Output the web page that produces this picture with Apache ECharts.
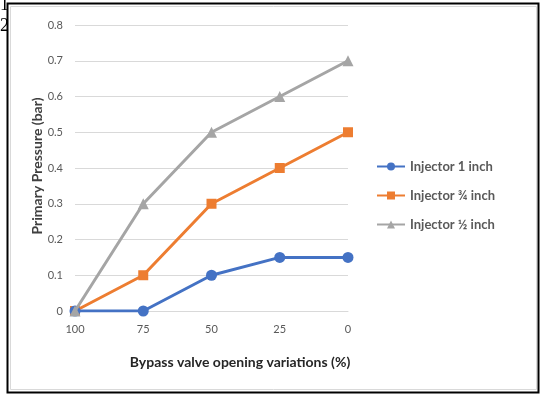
<!DOCTYPE html>
<html>
<head>
<meta charset="utf-8">
<script src="https://cdn.jsdelivr.net/npm/echarts@6/dist/echarts.min.js"></script>
<style>
html,body{margin:0;padding:0;background:#fff;}
#c{width:541px;height:395px;}
</style>
</head>
<body>
<div id="c"></div>
<script>
const categories = ['100', '75', '50', '25', '0'];
const injector1 = [0, 0, 0.1, 0.15, 0.15];
const injector34 = [0, 0.1, 0.3, 0.4, 0.5];
const injector12 = [0, 0.3, 0.5, 0.6, 0.7];
const seriesNames = ['Injector 1 inch', 'Injector ¾ inch', 'Injector ½ inch'];
const yTicks = { min: 0, max: 0.8, interval: 0.1 };
const yName = 'Primary Pressure (bar)';
const xName = 'Bypass valve opening variations (%)';

const chart = echarts.init(document.getElementById('c'), null, { renderer: 'canvas' });
const font = 'Lato, "Open Sans", sans-serif';
chart.setOption({
  animation: false,
  backgroundColor: '#fff',
  textStyle: { fontFamily: font },
  graphic: [
    { type: 'rect', shape: { x: 7.5, y: 3.5, width: 531, height: 389 }, style: { fill: 'none', stroke: '#000', lineWidth: 2 } },
    { type: 'rect', shape: { x: 10.5, y: 6.5, width: 526, height: 383 }, style: { fill: 'none', stroke: '#d9d9d9', lineWidth: 1 } },
    { type: 'text', x: 0, y: 5, z: 10, style: { text: '1', font: '18px "Liberation Serif", serif', fill: '#000', verticalAlign: 'middle' } },
    { type: 'text', x: 0, y: 26, z: 10, style: { text: '2', font: '18px "Liberation Serif", serif', fill: '#000', verticalAlign: 'middle' } },
    { type: 'text', x: 37, y: 166, rotation: Math.PI / 2, style: { text: yName, font: 'bold 14px ' + font, fill: '#404040', align: 'center', verticalAlign: 'middle' } },
    { type: 'text', x: 240, y: 362, style: { text: xName, font: 'bold 14px ' + font, fill: '#262626', align: 'center', verticalAlign: 'middle' } }
  ],
  grid: { left: 75, right: 193, top: 25, bottom: 84 },
  legend: {
    orient: 'vertical',
    left: 371,
    top: 155,
    itemWidth: 28,
    itemHeight: 10,
    itemGap: 16,
    textStyle: { fontSize: 13, fontWeight: 'bold', color: '#595959', fontFamily: font },
    data: seriesNames
  },
  xAxis: {
    type: 'category',
    data: categories,
    boundaryGap: false,
    axisLine: { lineStyle: { color: '#d9d9d9', width: 1 } },
    axisTick: { show: false },
    axisLabel: { color: '#595959', fontSize: 11, margin: 13 }
  },
  yAxis: {
    type: 'value',
    min: yTicks.min,
    max: yTicks.max,
    interval: yTicks.interval,
    axisLine: { show: false },
    axisTick: { show: false },
    axisLabel: { color: '#595959', fontSize: 11, margin: 12 },
    splitLine: { lineStyle: { color: '#d9d9d9', width: 1 } }
  },
  series: [
    { name: seriesNames[0], type: 'line', data: injector1, symbol: 'circle', symbolSize: 11,
      itemStyle: { color: '#4472C4' }, lineStyle: { width: 3, color: '#4472C4' }, z: 4 },
    { name: seriesNames[1], type: 'line', data: injector34, symbol: 'rect', symbolSize: 10,
      itemStyle: { color: '#ED7D31' }, lineStyle: { width: 3, color: '#ED7D31' }, z: 3 },
    { name: seriesNames[2], type: 'line', data: injector12, symbol: 'triangle', symbolSize: 11,
      itemStyle: { color: '#A5A5A5' }, lineStyle: { width: 3, color: '#A5A5A5' }, z: 5 }
  ]
});
</script>
</body>
</html>
